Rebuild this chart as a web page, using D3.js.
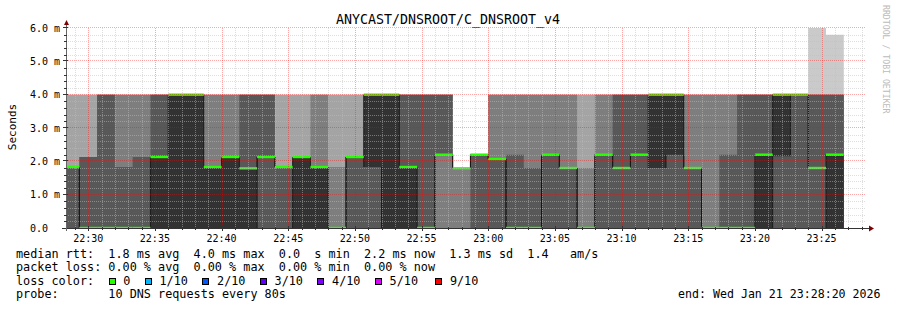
<!DOCTYPE html>
<html>
<head>
<meta charset="utf-8">
<script src="https://cdn.jsdelivr.net/npm/d3@7"></script>
<style>
body { margin: 0; background: #fff; }
svg text { font-family: "DejaVu Sans Mono", monospace; white-space: pre; }
</style>
</head>
<body>
<div id="chart"></div>
<script>
const title = "ANYCAST/DNSROOT/C_DNSROOT_v4";
const yLabel = "Seconds";
const watermark = "RRDTOOL / TOBI OETIKER";

//Время графика
const graphStart = "22:28:20";
const graphEnd = "23:28:20";
const firstStepEnd = "22:29:20";
const stepSeconds = 80;

const yTicks = [0, 1, 2, 3, 4, 5, 6];
const yTickLabels = ["0.0", "1.0 m", "2.0 m", "3.0 m", "4.0 m", "5.0 m", "6.0 m"];
const xTickLabels = ["22:30", "22:35", "22:40", "22:45", "22:50", "22:55",
    "23:00", "23:05", "23:10", "23:15", "23:20", "23:25"];

//10 отсортированных пингов на шаг, ms
const pings = [
    [0, 0, 0, 0, 1.83, 1.83, 1.83, 1.83, 4.0, 4.0],
    [0, 0, 0, 0, 0, 0, 2.13, 2.13, 4.0, 4.0],
    [0, 0, 0, 0, 0, 0, 4.0, 4.0, 4.0, 4.0],
    [0, 0, 0, 0, 0, 0, 1.83, 4.0, 4.0, 4.0],
    [0, 0, 0, 0, 0, 0, 2.13, 4.0, 4.0, 4.0],
    [0, 0, 0, 0, 0, 2.13, 4.0, 4.0, 4.0, 4.0],
    [0, 0, 0, 0, 0, 4.0, 4.0, 4.0, 4.0, 4.0],
    [0, 0, 0, 0, 0, 4.0, 4.0, 4.0, 4.0, 4.0],
    [0, 0, 0, 0, 0, 1.83, 1.83, 4.0, 4.0, 4.0],
    [0, 0, 0, 0, 0, 2.13, 2.13, 4.0, 4.0, 4.0],
    [0, 0, 0, 0, 0, 1.79, 4.0, 4.0, 4.0, 4.0],
    [0, 0, 0, 0, 2.13, 2.13, 4.0, 4.0, 4.0, 4.0],
    [0, 0, 0, 0, 1.83, 1.83, 1.83, 1.83, 4.0, 4.0],
    [0, 0, 0, 0, 0, 2.13, 2.13, 2.13, 4.0, 4.0],
    [0, 0, 0, 0, 0, 1.83, 1.83, 4.0, 4.0, 4.0],
    [0, 0, 0, 0, 0, 0, 0, 1.83, 4.0, 4.0],
    [0, 0, 0, 0, 2.13, 2.13, 2.13, 2.13, 4.0, 4.0],
    [0, 0, 0, 0, 1.83, 4.0, 4.0, 4.0, 4.0, 4.0],
    [0, 0, 0, 0, 0, 4.0, 4.0, 4.0, 4.0, 4.0],
    [0, 0, 0, 0, 0, 1.83, 4.0, 4.0, 4.0, 4.0],
    [0, 0, 0, 0, 0, 0, 4.0, 4.0, 4.0, 4.0],
    [0, 0, 0, 2.2, 2.2, 2.2, 4.0, 4.0, 4.0, 4.0],
    [0, 0, 0, 1.79, 1.79, 1.79, 1.79, 1.79, 1.79, 1.79],
    [0, 0, 0, 0, 2.2, 2.2, 2.2, 2.2, 2.2, 2.2],
    [0, 0, 0, 0, 2.07, 2.07, 2.07, 4.0, 4.0, 4.0],
    [0, 0, 0, 0, 0, 0, 2.2, 4.0, 4.0, 4.0],
    [0, 0, 0, 0, 0, 0, 1.8, 4.0, 4.0, 4.0],
    [0, 0, 0, 0, 2.2, 2.2, 2.2, 4.0, 4.0, 4.0],
    [0, 0, 0, 0, 1.8, 1.8, 1.8, 4.0, 4.0, 4.0],
    [0, 0, 0, 0, 0, 0, 0, 1.8, 4.0, 4.0],
    [0, 0, 0, 0, 2.2, 2.2, 2.2, 4.0, 4.0, 4.0],
    [0, 0, 0, 0, 1.8, 1.8, 4.0, 4.0, 4.0, 4.0],
    [0, 0, 0, 0, 2.2, 2.2, 4.0, 4.0, 4.0, 4.0],
    [0, 0, 0, 0, 1.8, 4.0, 4.0, 4.0, 4.0, 4.0],
    [0, 0, 0, 0, 2.2, 4.0, 4.0, 4.0, 4.0, 4.0],
    [0, 0, 0, 0, 1.8, 1.8, 1.8, 4.0, 4.0, 4.0],
    [0, 0, 0, 0, 0, 0, 0, 4.0, 4.0, 4.0],
    [0, 0, 0, 0, 0, 0, 2.2, 4.0, 4.0, 4.0],
    [0, 0, 0, 0, 0, 0, 4.0, 4.0, 4.0, 4.0],
    [0, 0, 0, 0, 0, 2.2, 4.0, 4.0, 4.0, 4.0],
    [0, 0, 0, 0, 2.15, 4.0, 4.0, 4.0, 4.0, 4.0],
    [0, 0, 0, 0, 4.0, 4.0, 4.0, 4.0, 4.0, 4.0],
    [0, 0, 0, 0, 1.8, 1.8, 4.0, 4.0, 4.0, 6.0],
    [0, 0, 0, 0, 0, 2.2, 4.0, 4.0, 4.0, 5.8]
];

//Медиана на шаг, ms
const medians = [1.83, 0, 0, 0, 0, 2.13, 4.0, 4.0, 1.83, 2.13, 1.79, 2.13, 1.83, 2.13, 1.83, 0,
    2.13, 4.0, 4.0, 1.83, 0, 2.2, 1.79, 2.2, 2.07, 0, 0, 2.2, 1.8, 0, 2.2, 1.8, 2.2, 4.0, 4.0,
    1.8, 0, 0, 0, 2.2, 4.0, 4.0, 1.8, 2.2];

const smokeColors = ["#cacaca", "#a4a4a4", "#7e7e7e", "#585858", "#323232"];
const medianColor = "#26ff00";

const lossLabels = ["0", "1/10", "2/10", "3/10", "4/10", "5/10", "9/10"];
const lossColors = ["#26ff00", "#00b8ff", "#0059ff", "#5e00ff", "#7e00ff", "#dd00ff", "#ff0000"];

const legendLines = [
    "median rtt:  1.8 ms avg  4.0 ms max  0.0  s min  2.2 ms now  1.3 ms sd  1.4   am/s",
    "packet loss: 0.00 % avg  0.00 % max  0.00 % min  0.00 % now",
    "loss color:",
    "probe:       10 DNS requests every 80s"
];
const endText = "end: Wed Jan 21 23:28:20 2026";

const width = 897;
const height = 310;
const plot = { left: 66, right: 866, top: 28, bottom: 228 };

function time(s) {
    const [h, m, sec] = s.split(":").map(Number);
    return new Date(2026, 0, 21, h, m, sec);
}

const svg = d3.select("#chart").append("svg")
    .attr("width", width)
    .attr("height", height);

svg.append("rect").attr("width", width).attr("height", height).attr("fill", "#fff");

const tStart = time(graphStart);
const tEnd = time(graphEnd);
const tFirst = time(firstStepEnd);

const x = d3.scaleTime().domain([tStart, tEnd]).range([plot.left, plot.right]);
const y = d3.scaleLinear().domain([0, 6]).range([plot.bottom, plot.top]);

svg.append("clipPath").attr("id", "clip")
    .append("rect")
    .attr("x", plot.left).attr("y", plot.top)
    .attr("width", plot.right - plot.left).attr("height", plot.bottom - plot.top);

//Шаги
const steps = pings.map((p, i) => {
    const t1 = new Date(+tFirst + i * stepSeconds * 1000);
    const t0 = new Date(Math.max(+tStart, +t1 - stepSeconds * 1000));
    return { t0, t1, p, med: medians[i] };
});

//Дым: слой k от пинга k до пинга 11-k
const area = d3.area()
    .x(d => x(d.t))
    .y0(d => y(d.lo))
    .y1(d => y(d.hi));

const g = svg.append("g").attr("clip-path", "url(#clip)");

smokeColors.forEach((color, k) => {
    const pts = [];
    steps.forEach(s => {
        pts.push({ t: s.t0, lo: s.p[k], hi: s.p[9 - k] });
        pts.push({ t: s.t1, lo: s.p[k], hi: s.p[9 - k] });
    });
    g.append("path")
        .attr("d", area(pts))
        .attr("fill", color);
});

//Вертикальные края самого тёмного слоя (как сглаживание в rrdtool)
const edges = [];
steps.forEach((s, i) => {
    const next = steps[i + 1];
    if (!next) return;
    [[s.p[4], next.p[4]], [s.p[5], next.p[5]]].forEach(([a, b]) => {
        if (a !== b) edges.push({ t: s.t1, a, b });
    });
});
g.selectAll(".edge")
    .data(edges)
    .enter()
    .append("line")
    .attr("x1", d => x(d.t)).attr("x2", d => x(d.t))
    .attr("y1", d => y(d.a)).attr("y2", d => y(d.b))
    .attr("stroke", "#141414")
    .attr("stroke-opacity", 0.85)
    .attr("stroke-width", 1);

//Сетка
const grid = svg.append("g").attr("shape-rendering", "crispEdges");
const minutes = d3.timeMinute.range(tStart, tEnd);
const px = v => Math.round(v) + 0.5;

minutes.filter(m => m.getMinutes() % 5 !== 0).forEach(m => {
    grid.append("line")
        .attr("x1", px(x(m))).attr("x2", px(x(m)))
        .attr("y1", plot.top).attr("y2", plot.bottom)
        .attr("stroke", "rgba(190,190,190,0.5)").attr("stroke-dasharray", "1,1");
});
d3.range(1, 30).filter(i => i % 5 !== 0).forEach(i => {
    const yy = px(y(i / 5));
    grid.append("line")
        .attr("x1", plot.left).attr("x2", plot.right)
        .attr("y1", yy).attr("y2", yy)
        .attr("stroke", "rgba(190,190,190,0.5)").attr("stroke-dasharray", "1,1");
});
minutes.filter(m => m.getMinutes() % 5 === 0).forEach(m => {
    grid.append("line")
        .attr("x1", px(x(m))).attr("x2", px(x(m)))
        .attr("y1", plot.top).attr("y2", plot.bottom)
        .attr("stroke", "rgba(255,0,0,0.35)").attr("stroke-dasharray", "1,1");
});
yTicks.filter(v => v > 0).forEach(v => {
    const yy = px(y(v)) - 1;
    grid.append("line")
        .attr("x1", plot.left).attr("x2", plot.right)
        .attr("y1", yy).attr("y2", yy)
        .attr("stroke", "rgba(255,0,0,0.35)").attr("stroke-dasharray", "1,1");
});

//Медиана
g.selectAll(".median")
    .data(steps)
    .enter()
    .append("rect")
    .attr("class", "median")
    .attr("x", d => x(d.t0))
    .attr("width", d => x(d.t1) - x(d.t0))
    .attr("y", d => y(d.med) - 1.2)
    .attr("height", 2.4)
    .attr("fill", medianColor);

//Оси
const axisColor = "#333";
svg.append("line")
    .attr("x1", plot.left - 4).attr("x2", plot.right + 3)
    .attr("y1", plot.bottom + 0.5).attr("y2", plot.bottom + 0.5)
    .attr("stroke", axisColor).attr("shape-rendering", "crispEdges");
svg.append("line")
    .attr("x1", plot.left + 0.5).attr("x2", plot.left + 0.5)
    .attr("y1", plot.bottom + 3).attr("y2", plot.top - 3)
    .attr("stroke", "#666").attr("shape-rendering", "crispEdges");
svg.append("path")
    .attr("d", `M${plot.right + 3},${plot.bottom - 2.5}L${plot.right + 8},${plot.bottom + 0.5}L${plot.right + 3},${plot.bottom + 3.5}Z`)
    .attr("fill", "#7f0000");
svg.append("path")
    .attr("d", `M${plot.left - 2},${plot.top - 3}L${plot.left + 0.5},${plot.top - 8}L${plot.left + 3},${plot.top - 3}Z`)
    .attr("fill", "#7f0000");

//Засечки
const ticks = svg.append("g").attr("shape-rendering", "crispEdges").attr("stroke", axisColor);
minutes.forEach(m => {
    const major = m.getMinutes() % 5 === 0;
    ticks.append("line")
        .attr("x1", px(x(m))).attr("x2", px(x(m)))
        .attr("y1", plot.bottom - (major ? 2 : 1)).attr("y2", plot.bottom + (major ? 3 : 2));
});
d3.range(1, 31).forEach(i => {
    const major = i % 5 === 0;
    const yy = major ? px(y(i / 5)) - 1 : px(y(i / 5));
    ticks.append("line")
        .attr("x1", plot.left - (major ? 3 : 2)).attr("x2", plot.left + (major ? 2 : 1))
        .attr("y1", yy).attr("y2", yy);
});

//Подписи осей
svg.selectAll(".xlabel")
    .data(xTickLabels)
    .enter()
    .append("text")
    .attr("x", d => x(time(d + ":00")))
    .attr("y", 242)
    .attr("text-anchor", "middle")
    .attr("font-size", "10px")
    .text(d => d);

svg.selectAll(".ylabel")
    .data(yTicks)
    .enter()
    .append("text")
    .attr("x", 30)
    .attr("y", d => y(d) + 3.6)
    .attr("font-size", "10px")
    .text((d, i) => yTickLabels[i]);

svg.append("text")
    .attr("transform", "translate(15.5,127) rotate(-90)")
    .attr("text-anchor", "middle")
    .attr("font-size", "11px")
    .text(yLabel);

svg.append("text")
    .attr("x", 448)
    .attr("y", 24)
    .attr("text-anchor", "middle")
    .attr("font-size", "13.3px")
    .text(title);

svg.append("text")
    .attr("transform", "translate(883,5) rotate(90)")
    .attr("font-size", "8.2px")
    .attr("fill", "#bbbbbb")
    .text(watermark);

//Легенда
const legendY = [258, 271.3, 284.6, 297.9];
svg.selectAll(".legend")
    .data(legendLines)
    .enter()
    .append("text")
    .attr("x", 16)
    .attr("y", (d, i) => legendY[i])
    .attr("font-size", "11.8px")
    .text(d => d);

svg.append("text")
    .attr("x", 880.5)
    .attr("y", legendY[3])
    .attr("text-anchor", "end")
    .attr("font-size", "11.6px")
    .text(endText);

let cursor = 108.7;
lossLabels.forEach((label, i) => {
    if (i === lossLabels.length - 1) cursor += 2.8;
    svg.append("rect")
        .attr("x", Math.round(cursor) + 0.5)
        .attr("y", 278.5)
        .attr("width", 6)
        .attr("height", 6)
        .attr("fill", lossColors[i])
        .attr("stroke", "#000")
        .attr("shape-rendering", "crispEdges");
    const t = svg.append("text")
        .attr("x", cursor + 14.6)
        .attr("y", legendY[2])
        .attr("font-size", "11.8px")
        .text(label);
    cursor += 14.6 + t.node().getComputedTextLength() + 14.5;
});
</script>
</body>
</html>
